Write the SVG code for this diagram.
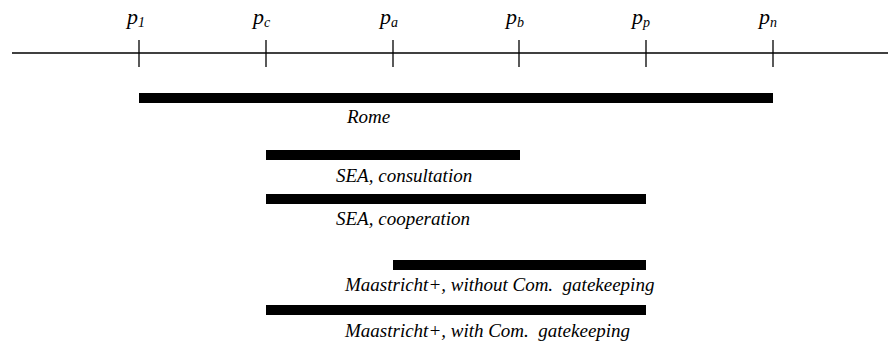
<svg xmlns="http://www.w3.org/2000/svg" width="888" height="343" viewBox="0 0 888 343">
<style>
.axis{stroke:#000;stroke-width:1.3;fill:none}
.bar{fill:#000}
</style>
<rect width="888" height="343" fill="#fff"/>
<g id="axis">
<line class="axis" x1="12" y1="53" x2="888" y2="53"/>
<line class="axis" x1="139" y1="40" x2="139" y2="67"/>
<line class="axis" x1="266" y1="40" x2="266" y2="67"/>
<line class="axis" x1="393" y1="40" x2="393" y2="67"/>
<line class="axis" x1="519" y1="40" x2="519" y2="67"/>
<line class="axis" x1="646" y1="40" x2="646" y2="67"/>
<line class="axis" x1="773" y1="40" x2="773" y2="67"/>
</g>
<g id="ticklabels">
<text x="127" y="24" font-family="Liberation Serif" font-style="italic" font-size="22">p<tspan font-size="14" dy="3">1</tspan></text>
<text x="253" y="24" font-family="Liberation Serif" font-style="italic" font-size="22">p<tspan font-size="14" dy="3">c</tspan></text>
<text x="380" y="24" font-family="Liberation Serif" font-style="italic" font-size="22">p<tspan font-size="14" dy="3">a</tspan></text>
<text x="506" y="24" font-family="Liberation Serif" font-style="italic" font-size="22">p<tspan font-size="14" dy="3">b</tspan></text>
<text x="632" y="24" font-family="Liberation Serif" font-style="italic" font-size="22">p<tspan font-size="14" dy="3">p</tspan></text>
<text x="759" y="24" font-family="Liberation Serif" font-style="italic" font-size="22">p<tspan font-size="14" dy="3">n</tspan></text>
</g>
<g id="rome">
<rect class="bar" x="139" y="93" width="634" height="10"/>
<text x="347" y="123" font-family="Liberation Serif" font-style="italic" font-size="19">Rome</text>
</g>
<g id="sea-consultation">
<rect class="bar" x="266" y="150" width="254" height="10"/>
<text x="336" y="182" font-family="Liberation Serif" font-style="italic" font-size="19">SEA, consultation</text>
</g>
<g id="sea-cooperation">
<rect class="bar" x="266" y="194" width="380" height="10"/>
<text x="336" y="225" font-family="Liberation Serif" font-style="italic" font-size="19">SEA, cooperation</text>
</g>
<g id="maastricht-without">
<rect class="bar" x="393" y="260" width="253" height="10"/>
<text x="345" y="291" font-family="Liberation Serif" font-style="italic" font-size="19">Maastricht+, without Com.&#160; gatekeeping</text>
</g>
<g id="maastricht-with">
<rect class="bar" x="266" y="305" width="380" height="10"/>
<text x="345" y="337" font-family="Liberation Serif" font-style="italic" font-size="19">Maastricht+, with Com.&#160; gatekeeping</text>
</g>
</svg>
